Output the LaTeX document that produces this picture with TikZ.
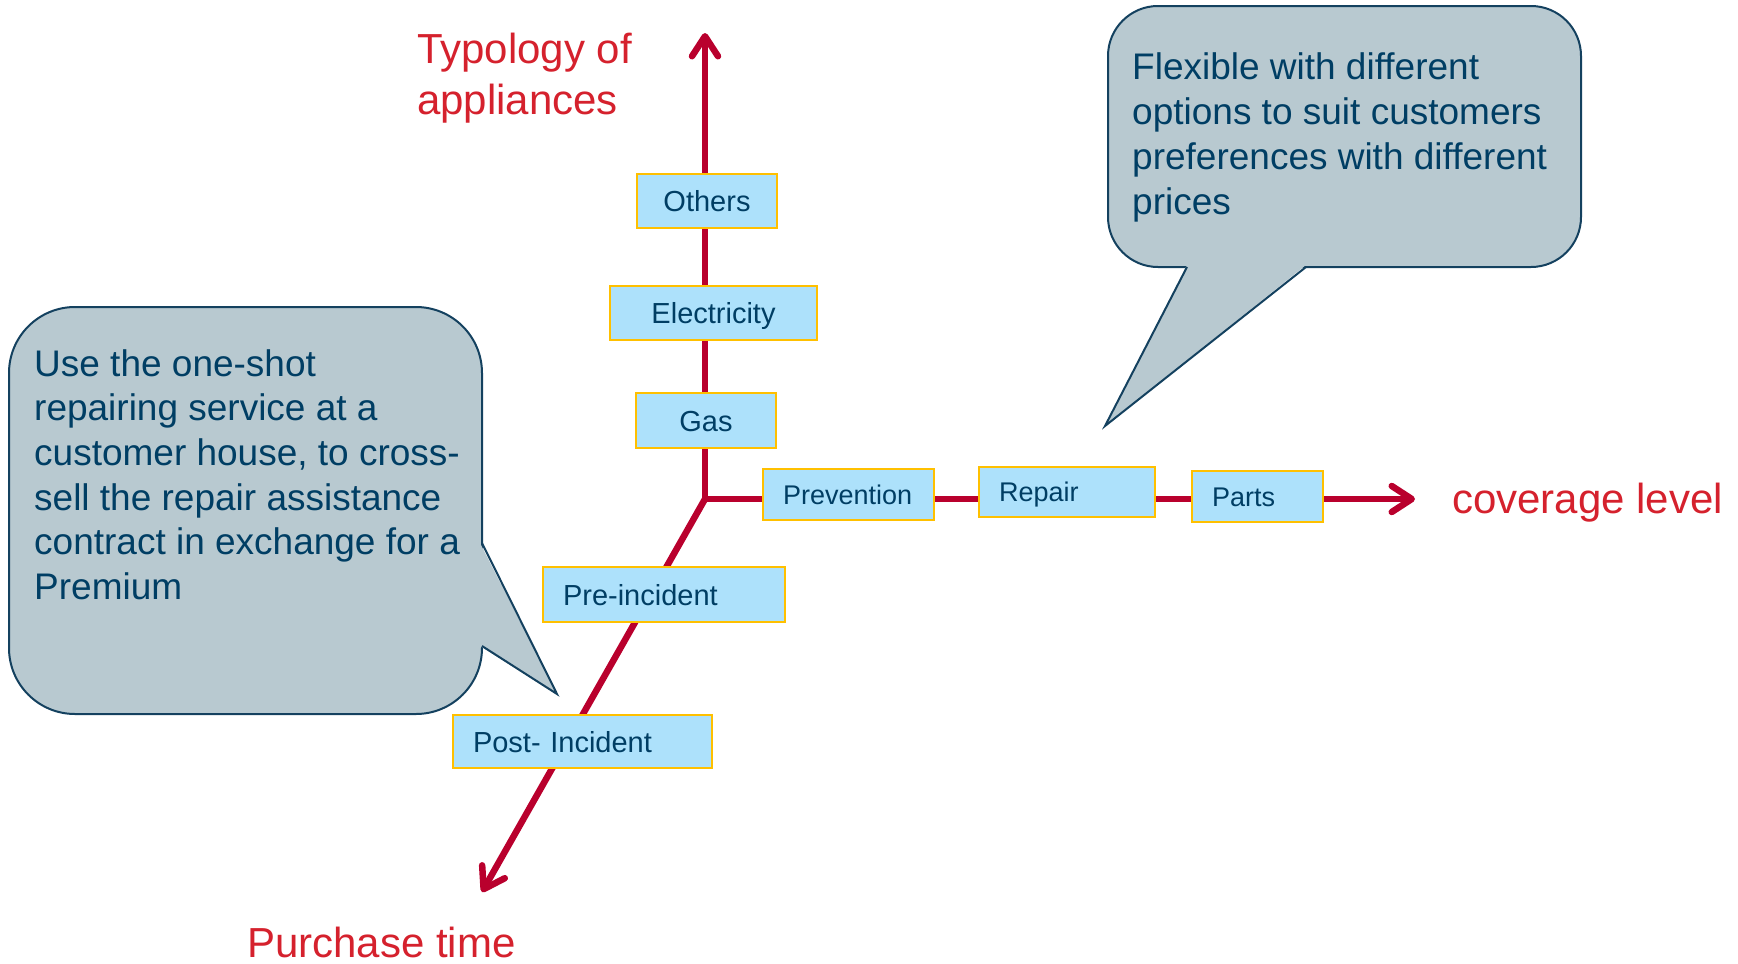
\documentclass[tikz,border=0pt]{standalone}
\usepackage{fontspec}
\setmainfont{Liberation Sans}
\usetikzlibrary{arrows.meta}
\definecolor{axisred}{RGB}{185,0,45}
\definecolor{labelred}{RGB}{213,33,45}
\definecolor{boxblue}{RGB}{173,225,251}
\definecolor{boxgold}{RGB}{255,192,0}
\definecolor{inkblue}{RGB}{0,62,100}
\definecolor{bubblegrey}{RGB}{184,201,208}
\definecolor{bubbleline}{RGB}{20,65,95}
\begin{document}
\begin{tikzpicture}[x=1pt,y=-1pt,
        axis/.style={draw=axisred,line width=6.5pt,-{Straight Barb[length=20pt,width=26pt,round]}},
        catbox/.style={draw=boxgold,fill=boxblue,line width=2.8pt,text=inkblue,inner ysep=0pt,text height=21pt,text depth=0pt,font=\fontsize{29}{34}\selectfont},
        timebox/.style={catbox,align=left,inner xsep=20pt},
        levelbox/.style={timebox,text height=19.5pt,font=\fontsize{27}{32}\selectfont},
        bubble/.style={draw=bubbleline,fill=bubblegrey,line width=2pt},
        bubbleedge/.style={draw=bubbleline,line width=2pt},
        bubbletext/.style={text=inkblue,align=left,anchor=base west,inner sep=0pt,font=\fontsize{37}{44.7}\selectfont},
        axislabel/.style={text=labelred,align=left,anchor=base west,inner sep=0pt,font=\fontsize{42}{51}\selectfont}]
        \useasboundingbox (0,0) rectangle (1738,964);
        \coordinate (o) at (705,499);
        \coordinate (ytip) at (705,33);
        \coordinate (xtip) at (1415,499);
        \coordinate (ztip) at (482,892);
        \draw[axis] (o) -- (ytip);
        \draw[axis] (o) -- (xtip);
        \draw[axis] (o) -- (ztip);
        \node[catbox,minimum width=140pt,minimum height=54pt] (others) at (707,201) {Others};
        \node[catbox,minimum width=207pt,minimum height=54pt] (electricity) at (713.5,313) {Electricity};
        \node[catbox,minimum width=140pt,minimum height=55pt] (gas) at (706,420.5) {Gas};
        \node[levelbox,text width=131pt,minimum height=51pt] (prevention) at (848.5,494.5) {Prevention};
        \node[levelbox,text width=136pt,minimum height=50pt] (repair) at (1067,492) {Repair};
        \node[levelbox,text width=91pt,minimum height=51pt] (parts) at (1257.5,496.5) {Parts};
        \node[timebox,text width=202pt,minimum height=55pt] (preincident) at (664,594.5) {Pre-incident};
        \node[timebox,text width=219pt,minimum height=53pt] (postincident) at (582.5,741.5) {Post- Incident};
        \node[axislabel] (typology) at (417,114) {Typology of\\appliances};
        \node[axislabel] (coverage) at (1452,513) {coverage level};
        \node[axislabel] (purchase) at (247,957) {Purchase time};
        \draw[bubble,rounded corners=66pt] (9,307) rectangle (482,714);
        \fill[bubblegrey] (480,543) -- (557,694) -- (480,646) -- cycle;
        \draw[bubbleedge] (482,543) -- (557,694) -- (482,646);
        \node[bubbletext] (usetext) at (34,599.5) {Use the one-shot\\repairing service at a\\customer house, to cross-\\sell the repair assistance\\contract in exchange for a\\Premium};
        \draw[bubble,rounded corners=50pt] (1108,6) rectangle (1581,267);
        \fill[bubblegrey] (1187,265) -- (1105,426) -- (1306,265) -- cycle;
        \draw[bubbleedge] (1187,267) -- (1105,426) -- (1306,267);
        \node[bubbletext] (flextext) at (1132,214) {Flexible with different\\options to suit customers\\preferences with different\\prices};
\end{tikzpicture}
\end{document}
